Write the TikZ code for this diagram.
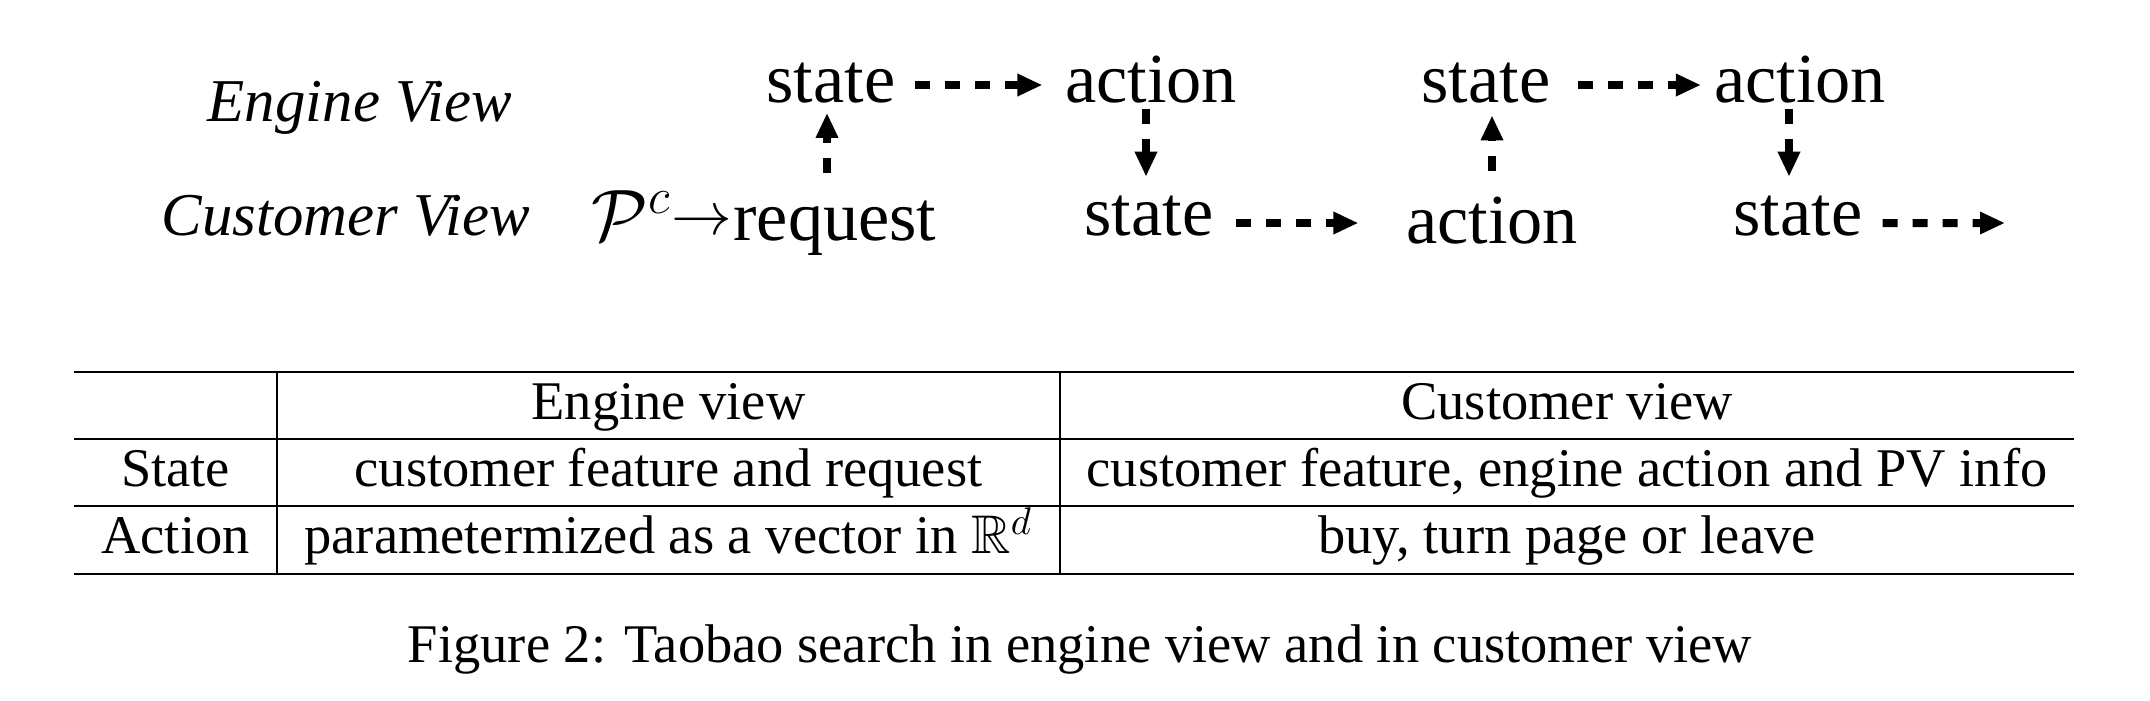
\documentclass[tikz,border=0pt]{standalone}
\usepackage{amsmath,amssymb}
\usepackage{fontspec}
\setmainfont{Liberation Serif}
\usetikzlibrary{arrows.meta,calc}

\tikzset{
  word/.style={inner sep=0pt,anchor=base,font=\fontsize{20}{24}\selectfont},
  tag/.style={inner sep=0pt,anchor=base,font=\fontsize{17.3}{21}\selectfont\itshape},
  flow/.style={-{Triangle[length=2.5mm,width=2.1mm]},line width=0.8mm,dash pattern=on 1.5mm off 1.5mm},
  cell/.style={inner sep=0pt,anchor=base,font=\fontsize{15.5}{18}\selectfont},
  rule/.style={line width=0.45pt},
}

\begin{document}
\begin{tikzpicture}[x=1cm,y=1cm]
\useasboundingbox (0,0) rectangle (21.5,7);
% two views of one search session
\node[tag] (ev) at (3.60,5.79) {Engine View};
\node[tag] (cv) at (3.46,4.65) {Customer View};
\node[word] (es1) at (8.31,5.98) {state};
\node[word] (ea1) at (11.51,5.98) {action};
\node[word] (es2) at (14.86,5.98) {state};
\node[word] (ea2) at (18.00,5.98) {action};
\node[word] (req) at (8.35,4.60) {request};
\node[word,anchor=base east] (pc) at (req.base west) {$\mathcal{P}^c$\raisebox{1.5pt}{\fontsize{16}{16}\selectfont$\rightarrow$}};
\node[word] (cs1) at (11.49,4.65) {state};
\node[word] (ca1) at (14.92,4.57) {action};
\node[word] (cs2) at (17.98,4.65) {state};
\coordinate (m1) at ([yshift=1.2mm]cs1.base east);
\coordinate (m2) at ([yshift=1.2mm]cs2.base east);
\coordinate (cend) at (20.05,4.77);
\draw[flow,shorten <=1.9mm,shorten >=2.2mm] ([yshift=1.7mm]es1.base east) -- ([yshift=1.7mm]ea1.base west);
\draw[flow,shorten <=2.65mm,shorten >=1.25mm] ([yshift=1.7mm]es2.base east) -- ([yshift=1.7mm]ea2.base west);
\draw[flow,shorten <=2.2mm,shorten >=4.7mm] (m1) -- (m1 -| ca1.west);
\draw[flow,shorten <=1.95mm] (m2) -- (cend);
\draw[flow,shorten <=2.7mm,shorten >=0.95mm] ([xshift=-0.4mm]es1 |- req.north) -- ([xshift=-0.4mm]es1.south);
\draw[flow,shorten <=0.6mm,shorten >=1.8mm] ([xshift=-0.5mm]ea1.south) -- ([xshift=-0.5mm]ea1.south |- cs1.north);
\draw[flow,shorten <=2.5mm,shorten >=1.2mm] (ca1.north) -- (ca1.north |- es2.south);
\draw[flow,shorten <=0.6mm,shorten >=1.8mm] ([xshift=-0.9mm]ea2.south -| cs2) -- ([xshift=-0.9mm]cs2.north);
% table
\draw[rule] (0.74,3.28) -- (20.74,3.28);
\draw[rule] (0.74,2.61) -- (20.74,2.61);
\draw[rule] (0.74,1.94) -- (20.74,1.94);
\draw[line width=0.65pt] (0.74,1.26) -- (20.74,1.26);
\draw[rule] (2.77,3.28) -- (2.77,1.26);
\draw[rule] (10.60,3.28) -- (10.60,1.26);
\node[cell] (hev) at (6.685,2.81) {Engine view};
\node[cell] (hcv) at (15.67,2.81) {Customer view};
\node[cell] (rs) at (1.755,2.14) {State};
\node[cell] (rse) at (6.685,2.14) {customer feature and request};
\node[cell] (rsc) at (15.67,2.14) {customer feature, engine action and PV info};
\node[cell] (ra) at (1.755,1.47) {Action};
\node[cell] (rae) at (6.685,1.47) {parametermized as a vector in $\mathbb{R}^d$};
\node[cell] (rac) at (15.67,1.47) {buy, turn page or leave};
\node[cell] (cap) at (10.80,0.38) {Figure 2: Taobao search in engine view and in customer view};
\end{tikzpicture}
\end{document}
